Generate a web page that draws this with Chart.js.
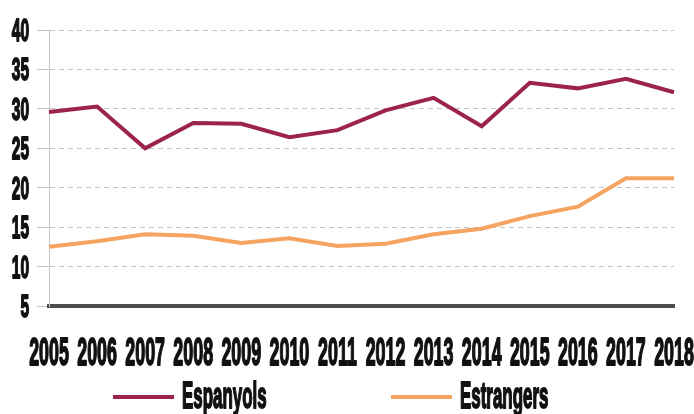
<!DOCTYPE html>
<html>
<head>
<meta charset="utf-8">
<script src="https://cdn.jsdelivr.net/npm/chart.js@4/dist/chart.umd.min.js"></script>
<style>
  body { margin: 0; background: #fff; }
  #wrap { width: 694px; height: 414px; }
</style>
</head>
<body>
<div id="wrap"><canvas id="chart" width="694" height="414"></canvas></div>
<script>
var years = ['2005', '2006', '2007', '2008', '2009', '2010', '2011', '2012', '2013', '2014', '2015', '2016', '2017', '2018'];
var espanyols = [29.6, 30.3, 25.0, 28.2, 28.1, 26.4, 27.3, 29.8, 31.4, 27.8, 33.3, 32.6, 33.8, 32.1];
var estrangers = [12.5, 13.2, 14.1, 13.9, 13.0, 13.6, 12.6, 12.9, 14.1, 14.8, 16.4, 17.6, 21.2, 21.2];
var yTicks = [5, 10, 15, 20, 25, 30, 35, 40];

var FONT = 'Liberation Sans, Arial, sans-serif';

// condensed text: draw a bold font squeezed horizontally, stroked a bit for weight
function squeezedText(ctx, text, x, y, size, sx, align) {
  ctx.save();
  ctx.font = 'bold ' + size + 'px ' + FONT;
  ctx.fillStyle = '#111';
  ctx.strokeStyle = '#111';
  ctx.lineWidth = 1.8;
  ctx.lineJoin = 'round';
  ctx.textAlign = align;
  ctx.textBaseline = 'alphabetic';
  ctx.translate(x, y);
  ctx.scale(sx, 1);
  ctx.fillText(text, 0, 0);
  ctx.strokeText(text, 0, 0);
  ctx.restore();
}

var labelsPlugin = {
  id: 'condensedLabels',
  afterDraw: function(chart) {
    let ctx = chart.ctx;
    let xScale = chart.scales.x;
    let yScale = chart.scales.y;

    yTicks.forEach(function(v) {
      squeezedText(ctx, String(v), 29, yScale.getPixelForValue(v) + 11, 31, 0.5, 'right');
    });

    years.forEach(function(y, i) {
      squeezedText(ctx, y, xScale.getPixelForValue(i), 365, 38, 0.47, 'center');
    });

    // legend
    let items = [
      {text: 'Espanyols', x: 113, ds: chart.data.datasets[0]},
      {text: 'Estrangers', x: 391, ds: chart.data.datasets[1]},
    ];
    items.forEach(function(it) {
      ctx.save();
      ctx.strokeStyle = it.ds.borderColor;
      ctx.lineWidth = 4;
      ctx.beginPath();
      ctx.moveTo(it.x, 397);
      ctx.lineTo(it.x + 61, 397);
      ctx.stroke();
      ctx.restore();
      squeezedText(ctx, it.text, it.x + 69, 408, 36, 0.47, 'left');
    });
  }
};

new Chart(document.getElementById('chart').getContext('2d'), {
  type: 'line',
  data: {
    labels: years,
    datasets: [{
      label: 'Espanyols',
      data: espanyols,
      borderColor: '#9c2449',
      borderWidth: 4,
      pointRadius: 0,
      tension: 0,
    }, {
      label: 'Estrangers',
      data: estrangers,
      borderColor: '#f4a460',
      borderWidth: 4,
      pointRadius: 0,
      tension: 0,
    }],
  },
  options: {
    responsive: false,
    animation: false,
    layout: { padding: { top: 30, right: 20, bottom: 108, left: 0 } },
    plugins: { legend: { display: false }, tooltip: { enabled: false } },
    scales: {
      x: {
        offset: false,
        grid: { display: false },
        border: { display: true, color: '#4d4d4d', width: 4 },
        ticks: { display: false },
        afterFit: function(s) { s.height = 0; },
      },
      y: {
        min: 5,
        max: 40,
        ticks: { display: false, stepSize: 5 },
        grid: {
          color: function(c) { return c.tick && c.tick.value === 5 ? 'rgba(0,0,0,0)' : '#c4c4c4'; },
          tickColor: '#c4c4c4',
          tickLength: 12,
          lineWidth: 1,
        },
        border: { display: true, color: '#c8c8c8', width: 1, dash: [5, 4] },
        afterFit: function(s) { s.width = 49; },
      },
    },
  },
  plugins: [labelsPlugin],
});
</script>
</body>
</html>
